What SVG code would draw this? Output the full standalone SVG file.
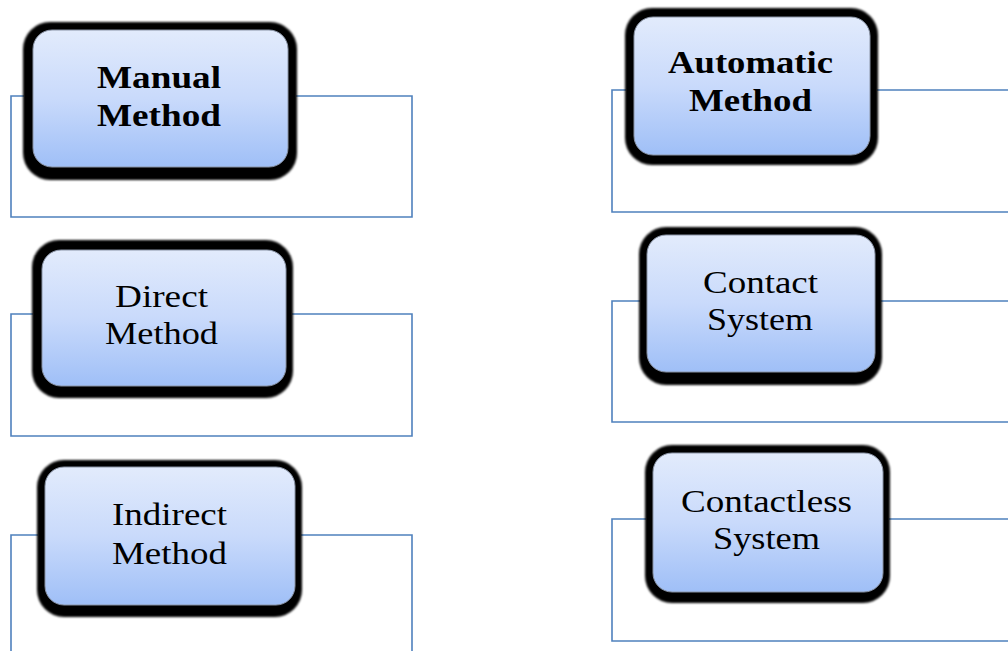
<svg xmlns="http://www.w3.org/2000/svg" width="1008" height="651" viewBox="0 0 1008 651">
  <defs>
    <linearGradient id="boxFill" x1="0" y1="0" x2="0" y2="1">
      <stop offset="0" stop-color="#e2ebfc"/>
      <stop offset="0.5" stop-color="#c9dafb"/>
      <stop offset="1" stop-color="#9fbff7"/>
    </linearGradient>
    <filter id="soft" x="-5%" y="-5%" width="110%" height="110%">
      <feGaussianBlur stdDeviation="0.8"/>
    </filter>
  </defs>
  <style>
    .wire { fill: none; stroke: #4f81bd; stroke-width: 1.6; }
    .frame { fill: #000; filter: url(#soft); }
    .face { fill: url(#boxFill); stroke: #8a94a6; stroke-width: 1; }
    .lbl { font-family: "Liberation Serif", "Times New Roman", serif; font-size: 31px; fill: #000; text-anchor: middle; }
    .bold { font-weight: bold; }
  </style>
  <rect width="1008" height="651" fill="#fff"/>

  <!-- bracket lines behind each box -->
  <g id="connectors">
    <path class="wire" d="M24,96 H11 V217 H412 V96 H296"/>
    <path class="wire" d="M626,90 H612 V212 H1008 M877,90 H1008"/>
    <path class="wire" d="M33,314 H11 V436 H412 V314 H292"/>
    <path class="wire" d="M38,535 H11 V651 M301,535 H412 V651"/>
    <path class="wire" d="M640,301 H612 V422 H1008 M881,301 H1008"/>
    <path class="wire" d="M646,519 H612 V641 H1008 M889,519 H1008"/>
  </g>

  <g id="manual">
    <rect class="frame" x="23" y="22" width="274" height="158" rx="27"/>
    <rect class="face" x="33" y="30" width="255" height="137" rx="19"/>
    <text class="lbl bold" x="159" y="88" textLength="124" lengthAdjust="spacingAndGlyphs">Manual</text>
    <text class="lbl bold" x="159" y="126" textLength="124" lengthAdjust="spacingAndGlyphs">Method</text>
  </g>

  <g id="automatic">
    <rect class="frame" x="625" y="8" width="253" height="157" rx="27"/>
    <rect class="face" x="634" y="17" width="236" height="138" rx="19"/>
    <text class="lbl bold" x="750.5" y="73" textLength="165" lengthAdjust="spacingAndGlyphs">Automatic</text>
    <text class="lbl bold" x="750.5" y="111" textLength="123" lengthAdjust="spacingAndGlyphs">Method</text>
  </g>

  <g id="direct">
    <rect class="frame" x="32" y="240" width="261" height="158" rx="27"/>
    <rect class="face" x="42" y="250" width="244" height="136" rx="19"/>
    <text class="lbl" x="161.5" y="307" textLength="93" lengthAdjust="spacingAndGlyphs">Direct</text>
    <text class="lbl" x="161.5" y="344" textLength="113" lengthAdjust="spacingAndGlyphs">Method</text>
  </g>

  <g id="indirect">
    <rect class="frame" x="37" y="460" width="265" height="157" rx="27"/>
    <rect class="face" x="45" y="467" width="250" height="138" rx="19"/>
    <text class="lbl" x="169.5" y="525" textLength="115" lengthAdjust="spacingAndGlyphs">Indirect</text>
    <text class="lbl" x="169.5" y="564" textLength="115" lengthAdjust="spacingAndGlyphs">Method</text>
  </g>

  <g id="contact">
    <rect class="frame" x="639" y="227" width="243" height="158" rx="27"/>
    <rect class="face" x="647" y="235" width="228" height="137" rx="19"/>
    <text class="lbl" x="760.5" y="293" textLength="115" lengthAdjust="spacingAndGlyphs">Contact</text>
    <text class="lbl" x="760" y="330" textLength="106" lengthAdjust="spacingAndGlyphs">System</text>
  </g>

  <g id="contactless">
    <rect class="frame" x="645" y="445" width="245" height="158" rx="27"/>
    <rect class="face" x="653" y="453" width="230" height="139" rx="19"/>
    <text class="lbl" x="766.5" y="512" textLength="171" lengthAdjust="spacingAndGlyphs">Contactless</text>
    <text class="lbl" x="766.5" y="549" textLength="107" lengthAdjust="spacingAndGlyphs">System</text>
  </g>
</svg>
